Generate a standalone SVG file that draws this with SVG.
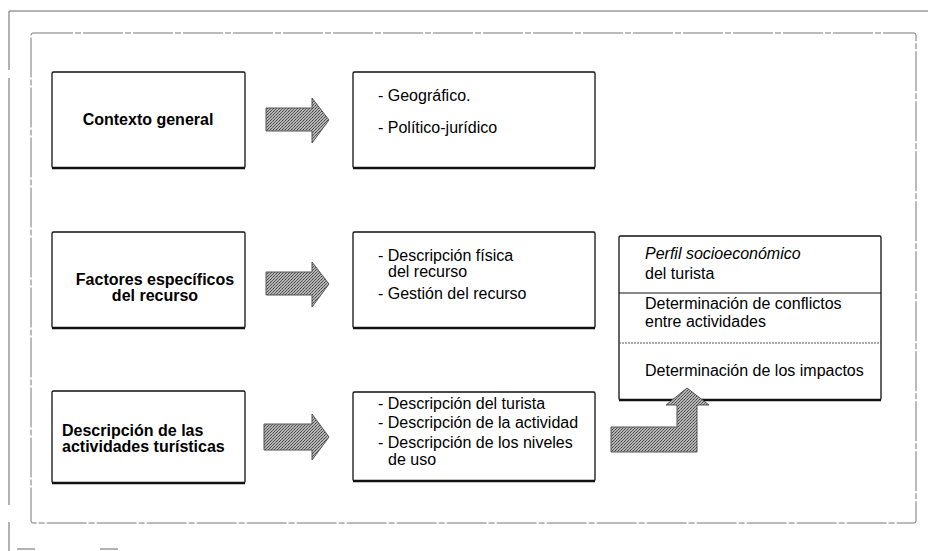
<svg xmlns="http://www.w3.org/2000/svg" width="928" height="551" viewBox="0 0 928 551">
<defs>
<pattern id="ht" width="3" height="3" patternUnits="userSpaceOnUse">
<rect width="3" height="3" fill="#b4b4b4"/>
<rect x="0" y="0" width="1" height="1" fill="#444"/>
<rect x="2" y="1" width="1" height="1" fill="#666"/>
<rect x="1" y="2" width="1" height="1" fill="#555"/>
</pattern>
</defs>
<style>
.frame{fill:none;stroke:#666;stroke-width:1}
.inner{fill:none;stroke:#777;stroke-width:1;stroke-dasharray:40 2 6 2}
.box{fill:#fff;stroke:#111;stroke-width:1.3}
.bot{stroke:#111;stroke-width:2.4}
.arrow{fill:url(#ht);stroke:#555;stroke-width:1}
.b{font-family:"Liberation Sans",Arial,sans-serif;font-size:16px;font-weight:bold;fill:#000}
.t{font-family:"Liberation Sans",Arial,sans-serif;font-size:16px;fill:#000}
.i{font-style:italic}
</style>
<rect width="928" height="551" fill="#fff"/>
<g id="outer-frame">
<path class="frame" d="M9,70 V11 H928"/>
<path class="frame" d="M9,78 V505 M9,522 V551"/>
<path class="frame" d="M17,549 H35 M100,549 H118"/>
</g>
<g id="inner-frame">
<rect class="inner" x="31" y="33" width="885" height="490" rx="2"/>
</g>
<g id="contexto-general">
<rect class="box" x="52" y="72" width="193" height="96" rx="1.5"/>
<line class="bot" x1="52" y1="168" x2="245" y2="168"/>
<text class="b" x="148" y="125" text-anchor="middle">Contexto general</text>
</g>
<g id="contexto-detalle">
<rect class="box" x="353" y="72" width="242" height="96" rx="1.5"/>
<line class="bot" x1="353" y1="168" x2="595" y2="168"/>
<text class="t" x="378" y="101">- Geográfico.</text>
<text class="t" x="378" y="133">- Político-jurídico</text>
</g>
<g id="factores">
<rect class="box" x="52" y="232" width="193" height="96" rx="1.5"/>
<line class="bot" x1="52" y1="328" x2="245" y2="328"/>
<text class="b" x="155" y="285" text-anchor="middle">Factores específicos</text>
<text class="b" x="155" y="301" text-anchor="middle">del recurso</text>
</g>
<g id="factores-detalle">
<rect class="box" x="353" y="232" width="242" height="96" rx="1.5"/>
<line class="bot" x1="353" y1="328" x2="595" y2="328"/>
<text class="t" x="378" y="261">- Descripción física</text>
<text class="t" x="388" y="277">del recurso</text>
<text class="t" x="378" y="299">- Gestión del recurso</text>
</g>
<g id="actividades">
<rect class="box" x="52" y="391" width="193" height="92" rx="1.5"/>
<line class="bot" x1="52" y1="483" x2="245" y2="483"/>
<text class="b" x="62" y="436">Descripción de las</text>
<text class="b" x="62" y="452">actividades turísticas</text>
</g>
<g id="actividades-detalle">
<rect class="box" x="353" y="392" width="242" height="89" rx="1.5"/>
<line class="bot" x1="353" y1="481" x2="595" y2="481"/>
<text class="t" x="378" y="409">- Descripción del turista</text>
<text class="t" x="378" y="428">- Descripción de la actividad</text>
<text class="t" x="378" y="448">- Descripción de los niveles</text>
<text class="t" x="388" y="465">de uso</text>
</g>
<g id="resultados">
<rect class="box" x="619" y="236" width="262" height="164" rx="1.5"/>
<line class="bot" x1="619" y1="400" x2="881" y2="400"/>
<line x1="619" y1="293" x2="881" y2="293" stroke="#111" stroke-width="1.2"/>
<line x1="619" y1="343" x2="881" y2="343" stroke="#555" stroke-width="1" stroke-dasharray="2 1"/>
<text class="t" x="645" y="259"><tspan class="i">Perfil socioeconómico</tspan></text>
<text class="t" x="645" y="279">del turista</text>
<text class="t" x="645" y="309">Determinación de conflictos</text>
<text class="t" x="645" y="327">entre actividades</text>
<text class="t" x="645" y="376">Determinación de los impactos</text>
</g>
<g id="connectors">
<polygon class="arrow" points="266,108 312,108 312,98 329,120 312,143 312,131 266,131"/>
<polygon class="arrow" points="266,272 312,272 312,262 329,284 312,307 312,295 266,295"/>
<polygon class="arrow" points="264,424 312,424 312,414 329,437 312,460 312,450 264,450"/>
<polygon class="arrow" points="611,427 677,427 677,405 666,405 687,388 709,405 697,405 697,452 611,452"/>
</g>
</svg>
